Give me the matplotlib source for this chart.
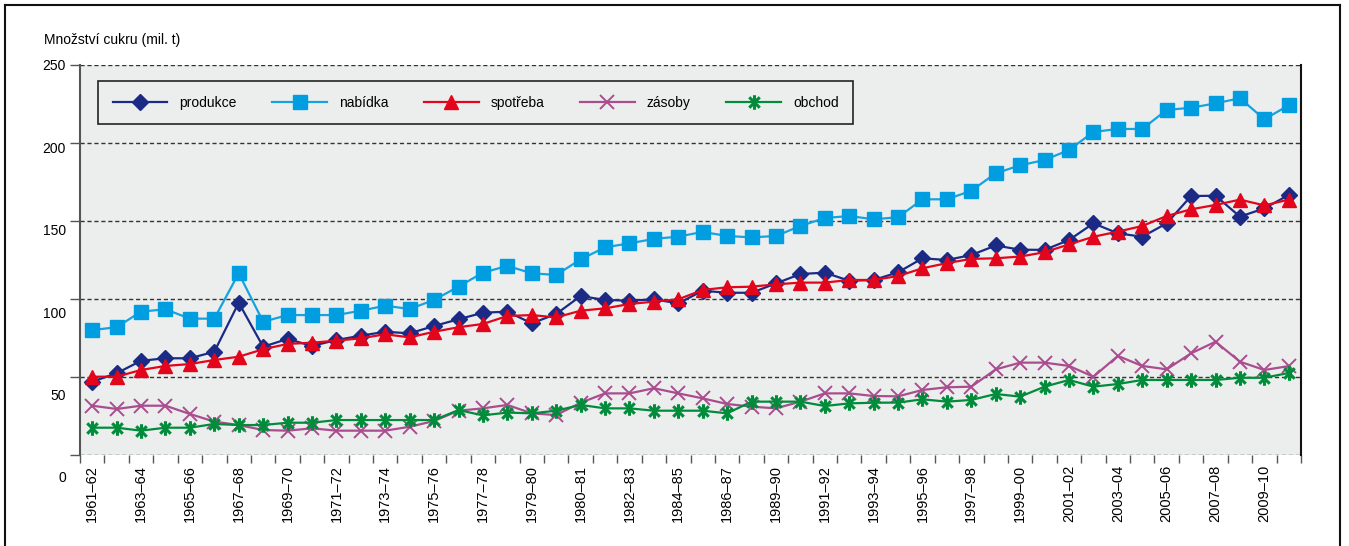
import matplotlib
matplotlib.use('Agg')
import numpy as np
import matplotlib.pyplot as plt
from matplotlib import font_manager, transforms
from matplotlib.path import Path
from matplotlib.lines import Line2D

# ---------------- data ----------------
seasons = [f"{y}–{str(y + 1)[-2:]}" for y in range(1961, 2011)]
tick_labels = ["1961–62", "1963–64", "1965–66", "1967–68", "1969–70", "1971–72",
               "1973–74", "1975–76", "1977–78", "1979–80", "1980–81", "1982–83",
               "1984–85", "1986–87", "1989–90", "1991–92", "1993–94", "1995–96",
               "1997–98", "1999–00", "2001–02", "2003–04", "2005–06", "2007–08",
               "2009–10"]
produkce = [47.0, 52.4, 60.4, 62.0, 62.0, 66.2, 97.6, 69.4, 74.4, 69.9,
            73.7, 76.5, 79.0, 78.0, 82.7, 87.0, 91.2, 91.9, 84.4, 90.4,
            101.9, 99.4, 98.9, 99.8, 97.2, 105.3, 104.0, 104.0, 110.0, 116.0,
            116.9, 111.7, 112.2, 117.1, 126.1, 125.0, 128.2, 134.3, 131.6, 131.5,
            137.8, 148.5, 142.1, 139.9, 148.5, 166.0, 166.2, 152.8, 158.1, 166.7]
nabidka = [80.1, 81.9, 91.9, 93.4, 87.4, 87.4, 116.5, 85.4, 89.7, 89.7,
           89.7, 92.5, 95.7, 93.6, 99.4, 107.9, 116.9, 121.2, 116.5, 115.4,
           125.4, 133.1, 135.7, 138.5, 140.0, 143.0, 140.4, 139.5, 140.4, 146.8,
           151.9, 153.2, 151.1, 152.4, 163.9, 163.9, 169.4, 180.6, 185.7, 189.1,
           195.5, 207.1, 209.0, 209.0, 221.2, 222.6, 225.4, 228.7, 215.2, 224.2]
spotreba = [50.2, 50.2, 54.5, 57.1, 58.3, 60.9, 63.0, 67.8, 71.2, 72.0,
            73.3, 74.8, 77.4, 75.4, 79.0, 81.9, 84.0, 89.1, 89.7, 88.2,
            92.5, 94.0, 96.8, 98.3, 99.8, 105.8, 107.5, 107.9, 109.4, 110.5,
            110.5, 112.2, 112.2, 114.7, 119.7, 123.0, 125.7, 126.1, 127.2, 130.0,
            135.0, 139.9, 143.2, 146.8, 153.2, 157.5, 160.3, 163.7, 160.0, 163.7]
zasoby = [31.6, 29.5, 31.6, 31.6, 26.3, 21.4, 19.2, 16.0, 15.6, 17.1,
          15.6, 15.6, 15.6, 18.1, 21.8, 28.4, 29.9, 32.1, 26.7, 25.6,
          33.5, 39.5, 39.5, 42.8, 39.5, 36.3, 32.7, 31.0, 29.9, 34.2,
          39.5, 39.5, 37.8, 37.6, 41.7, 43.4, 43.8, 54.9, 59.2, 59.2,
          57.1, 50.2, 63.5, 57.1, 54.9, 65.2, 72.6, 59.8, 54.5, 57.0]
obchod = [17.5, 17.5, 15.6, 17.5, 17.5, 19.9, 19.2, 19.2, 20.7, 20.7,
          22.4, 22.4, 22.4, 22.4, 22.4, 28.8, 25.4, 27.2, 26.7, 28.4,
          32.1, 29.9, 29.9, 28.4, 28.4, 28.4, 26.7, 34.2, 34.2, 34.2,
          31.4, 33.1, 33.5, 33.6, 35.7, 34.2, 35.3, 39.1, 37.4, 43.8,
          48.1, 43.8, 45.5, 48.1, 48.1, 48.1, 48.1, 49.5, 49.5, 52.6]
series_names = ["produkce", "nabídka", "spotřeba", "zásoby", "obchod"]
y_ticks = [0, 50, 100, 150, 200, 250]

# ---------------- fonts ----------------
names = {f.name for f in font_manager.fontManager.ttflist}
if 'Liberation Sans Narrow' in names:
    NARROW, NSIZE = 'Liberation Sans Narrow', 11
else:
    NARROW, NSIZE = 'Liberation Sans', 10
REG = 'Liberation Sans'

W, H = 1349, 546
fig = plt.figure(figsize=(W / 100, H / 100), dpi=100)
fig.patch.set_facecolor('white')
ax = fig.add_axes([80 / W, (H - 455) / H, (1301 - 80) / W, (455 - 65) / H])
ax.set_facecolor('#eceeee')

x = np.arange(len(seasons))

star = Path([(0, -1), (0, 1), (-0.72, -0.72), (0.72, 0.72), (-0.72, 0.72), (0.72, -0.72)],
            [Path.MOVETO, Path.LINETO, Path.MOVETO, Path.LINETO, Path.MOVETO, Path.LINETO])

styles = [
    dict(color='#1b2a84', marker='D', ms=7.8, mfc='#1b2a84', mec='#1b2a84', lw=1.6),
    dict(color='#14a3e0', marker='s', ms=9.6, mfc='#009ee0', mec='#009ee0', lw=1.6),
    dict(color='#e3051b', marker='^', ms=10.5, mfc='#e3051b', mec='#e3051b', lw=1.6),
    dict(color='#a94d8e', marker='x', ms=10.5, mec='#a94d8e', mew=1.4, lw=1.6),
    dict(color='#008c3a', marker=star, ms=10.5, mec='#008c3a', mew=2.2, lw=1.6),
]
data = [produkce, nabidka, spotreba, zasoby, obchod]
handles = []
for vals, st, nm in zip(data, styles, series_names):
    h, = ax.plot(x, vals, label=nm, zorder=3, **st)
    handles.append(h)

ax.set_xlim(-0.5, len(seasons) - 0.5)
ax.set_ylim(0, 250)

# y axis
ax.set_yticks(y_ticks)
ax.set_yticklabels([str(v) for v in y_ticks], fontfamily=NARROW, fontsize=NSIZE)
ax.tick_params(axis='y', length=7, width=1, color='#555555', pad=3, direction='out')
for v, lbl in zip(y_ticks, ax.get_yticklabels()):
    dy = -(250 - v) / 50 * 4.4 / 100
    lbl.set_transform(lbl.get_transform() + transforms.ScaledTranslation(0, dy, fig.dpi_scale_trans))
ax.yaxis.grid(True, linestyle=(0, (3, 2)), color='#333333', lw=1.0)
ax.set_axisbelow(True)

# x axis
ax.set_xticks(np.arange(0, len(seasons), 2))
ax.set_xticklabels(tick_labels, rotation=90, fontfamily=REG, fontsize=10.5)
ax.set_xticks(np.arange(-0.5, len(seasons), 1), minor=True)
ax.tick_params(axis='x', which='major', length=0, pad=7)
ax.tick_params(axis='x', which='minor', length=6, width=1, color='#555555', direction='out')

for s in ['top', 'bottom']:
    ax.spines[s].set_visible(False)
ax.spines['left'].set_color('#555555')
ax.spines['left'].set_linewidth(1.5)
ax.spines['right'].set_color('#111111')
ax.spines['right'].set_linewidth(1.5)

leg = ax.legend(handles=handles, ncol=5, loc='upper left',
                bbox_to_anchor=(18 / 1221, 1 - 16 / 390), borderaxespad=0,
                frameon=True, fancybox=False, edgecolor='#222222', facecolor='#eceeee',
                framealpha=1, prop={'family': NARROW, 'size': NSIZE}, handlelength=3.95,
                handletextpad=0.86, columnspacing=2.55, borderpad=1.05, numpoints=1)
leg.get_frame().set_linewidth(1.2)

fig.text(44 / W, 1 - 40 / H, "Množství cukru (mil. t)", fontfamily=NARROW, fontsize=NSIZE,
         va='center', ha='left')

# outer border
fig.add_artist(Line2D([5 / W, 5 / W], [0, 1 - 5 / H], transform=fig.transFigure, color='#111111', lw=1.5))
fig.add_artist(Line2D([5 / W, 1340 / W], [1 - 5 / H, 1 - 5 / H], transform=fig.transFigure, color='#111111', lw=1.5))
fig.add_artist(Line2D([1340 / W, 1340 / W], [0, 1 - 5 / H], transform=fig.transFigure, color='#111111', lw=1.5))

fig.savefig('out.png', dpi=100)
